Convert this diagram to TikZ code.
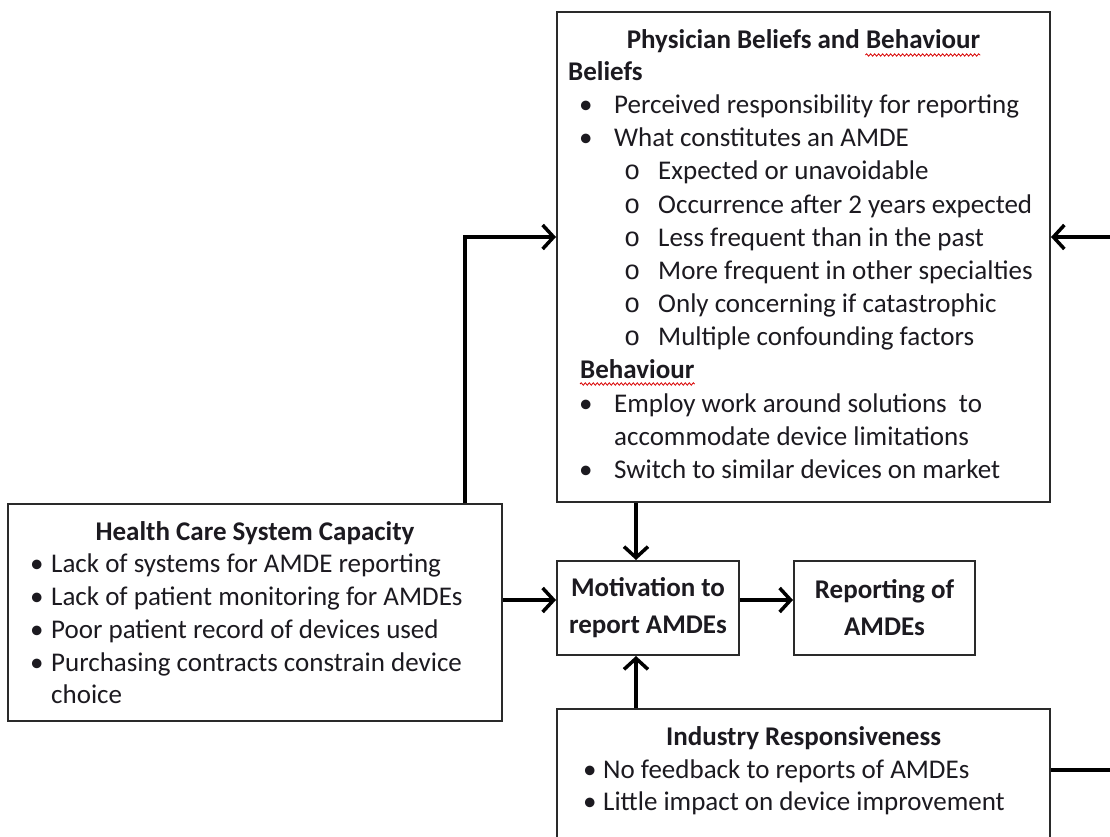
\documentclass[tikz,border=0pt]{standalone}
\usepackage{fontspec}
\setmainfont{Carlito}
\newfontfamily\monofnt{Liberation Mono}
\usetikzlibrary{arrows.meta,decorations.pathmorphing}
\definecolor{ink}{HTML}{1C1A20}
\definecolor{frame}{HTML}{2A2A2A}
\begin{document}
\begin{tikzpicture}[x=1pt,y=-1pt,
  box/.style={draw=frame, line width=2pt, inner sep=0pt, rectangle, text=ink},
  t/.style={anchor=base west, inner sep=0pt, text=ink, font=\fontsize{27}{33}\selectfont},
  tb/.style={t, font=\fontsize{27}{33}\selectfont\bfseries},
  tc/.style={tb, anchor=base},
  conn/.style={line width=3.5pt, black},
  arr/.style={conn, -{Straight Barb[length=11pt,width=24pt]}},
  squig/.style={red!85!black, line width=0.8pt, decorate, decoration={snake, amplitude=1.2pt, segment length=4pt}}
]
\useasboundingbox (0,0) rectangle (1110,837);
\clip (0,0) rectangle (1110,837);
\fill[white] (0,0) rectangle (1110,837);

% boxes
\node[box, minimum width=493pt, minimum height=490pt] (phys) at (803.5,257) {};
\node[box, minimum width=494pt, minimum height=217pt] (health) at (255,612.5) {};
\node[box, minimum width=182pt, minimum height=94pt, align=center,
      font=\fontsize{27}{37}\selectfont\bfseries] (mot) at (648,608) {Motivation to\\report AMDEs};
\node[box, minimum width=181pt, minimum height=94pt, align=center,
      font=\fontsize{27}{37}\selectfont\bfseries] (rep) at (884.5,608) {Reporting of\\AMDEs};
\node[box, minimum width=493pt, minimum height=161pt] (ind) at (803.5,789.5) {};

% physician text
\node[tc] (ptitle) at (803.5,49) {Physician Beliefs and Behaviour};
\draw[squig] ([xshift=-115pt,yshift=-6pt]ptitle.base east) -- ([yshift=-6pt]ptitle.base east);
\node[tb] (pbel) at (568,81) {Beliefs};
\node[t] (p1) at (579,114) {\makebox[35pt][l]{•}Perceived responsibility for reporting};
\node[t] (p2) at (579,147) {\makebox[35pt][l]{•}What constitutes an AMDE};
\node[t] (p3) at (624,180) {\makebox[34pt][l]{\monofnt o}Expected or unavoidable};
\node[t] (p4) at (624,213) {\makebox[34pt][l]{\monofnt o}Occurrence after 2 years expected};
\node[t] (p5) at (624,246) {\makebox[34pt][l]{\monofnt o}Less frequent than in the past};
\node[t] (p6) at (624,279) {\makebox[34pt][l]{\monofnt o}More frequent in other specialties};
\node[t] (p7) at (624,312) {\makebox[34pt][l]{\monofnt o}Only concerning if catastrophic};
\node[t] (p8) at (624,345) {\makebox[34pt][l]{\monofnt o}Multiple confounding factors};
\node[tb] (pbeh) at (580,378) {Behaviour};
\draw[squig] ([yshift=-6pt]pbeh.base west) -- ([yshift=-6pt]pbeh.base east);
\node[t] (p9) at (579,412) {\makebox[35pt][l]{•}Employ work around solutions\ \ to};
\node[t] (p10) at (614,445) {accommodate device limitations};
\node[t] (p11) at (579,478) {\makebox[35pt][l]{•}Switch to similar devices on market};

% health text
\node[tc] (htitle) at (255,540) {Health Care System Capacity};
\node[t] (h1) at (30,572) {\makebox[21pt][l]{•}Lack of systems for AMDE reporting};
\node[t] (h2) at (30,605) {\makebox[21pt][l]{•}Lack of patient monitoring for AMDEs};
\node[t] (h3) at (30,638) {\makebox[21pt][l]{•}Poor patient record of devices used};
\node[t] (h4) at (30,671) {\makebox[21pt][l]{•}Purchasing contracts constrain device};
\node[t] (h5) at (51,703) {choice};

% industry text
\node[tc] (ititle) at (803.5,745) {Industry Responsiveness};
\node[t] (i1) at (583,778) {\makebox[20pt][l]{•}No feedback to reports of AMDEs};
\node[t] (i2) at (583,810) {\makebox[20pt][l]{•}Little impact on device improvement};

% connectors
\coordinate (k1) at (465,237);
\coordinate (cx) at (636,0);
\coordinate (ya) at (0,600);
\coordinate (rin) at (1114,237);
\coordinate (rout) at (1114,770);
\draw[arr] (health.north -| k1) |- (phys.west |- k1);
\draw[arr] (phys.south -| cx) -- (mot.north -| cx);
\draw[arr] (ind.north -| cx) -- (mot.south -| cx);
\draw[arr] (health.east |- ya) -- (mot.west |- ya);
\draw[arr] (mot.east |- ya) -- (rep.west |- ya);
\draw[arr] (rin) -- (phys.east |- rin);
\draw[conn] (ind.east |- rout) -- (rout);
\end{tikzpicture}
\end{document}
